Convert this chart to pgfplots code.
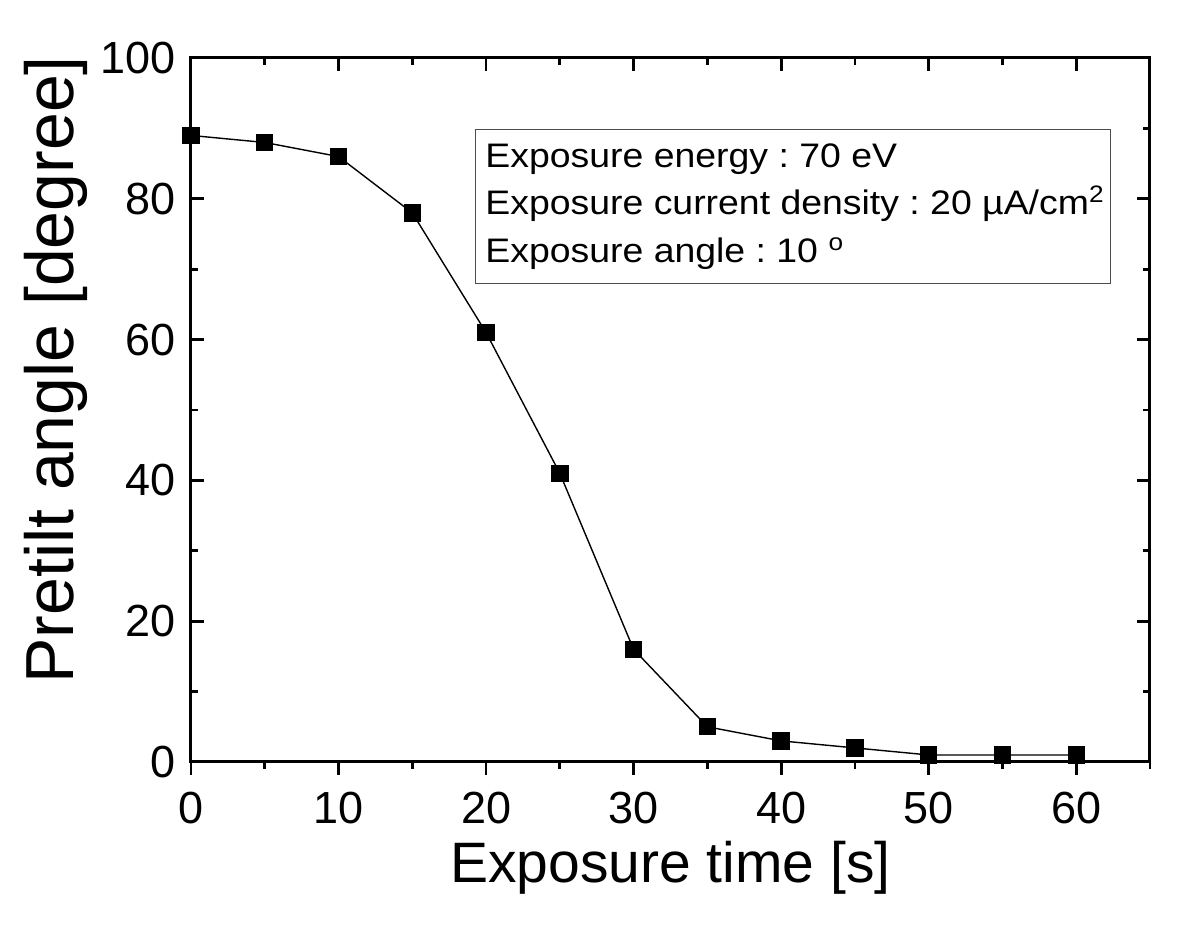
\documentclass[border=0pt]{standalone}
\usepackage{pgfplots}
\pgfplotsset{compat=1.18}
\usepackage{fontspec}
\setmainfont{Liberation Sans}
\newfontfamily\legfont[FakeStretch=1.1]{Liberation Sans}
\frenchspacing
\begin{document}
\begin{tikzpicture}
\useasboundingbox (-95.5pt,-82pt) rectangle (504.5pt,381pt);
\pgfplotsset{
  common/.style={
    scale only axis, width=479.5pt, height=352pt,
    at={(0,0)}, anchor=south west,
    xmin=0, xmax=65, ymin=0, ymax=100,
    xtick={0,10,...,60}, minor xtick={5,15,...,65},
    ytick={0,20,...,100}, minor ytick={10,30,...,90},
    major tick length=6.5pt, minor tick length=3.4pt,
    every tick/.style={line width=1.4pt, black},
    /pgf/number format/assume math mode=true,
    tick label style={font=\fontsize{22.5}{26}\selectfont},
  }
}
% frame with inward ticks (left, right, top)
\begin{axis}[common,
  axis line style={line width=1.5pt},
  tick align=inside,
  xtick pos=upper, xticklabels={},
  ytick pos=both, yticklabel pos=left,
  yticklabel style={xshift=-4pt},
  ylabel={Pretilt angle [degree]},
  ylabel style={font=\fontsize{34}{38}\selectfont,
    at={(ticklabel cs:0.557)}, yshift=0pt},
]
\addplot[black, line width=0.7pt, mark=square*, mark size=4pt,
  mark options={solid, fill=black}] coordinates {
  (0,89) (5,88) (10,86) (15,78) (20,61) (25,41) (30,16)
  (35,5) (40,3) (45,2) (50,1) (55,1) (60,1)
};
\draw[black!70, line width=0.6pt, fill=white]
  (axis cs:19.3,89.8) rectangle (axis cs:62.3,68.0);
\node[anchor=base west, inner sep=0pt, font=\legfont\fontsize{17}{20}\selectfont]
  at (axis cs:19.93,84.5) {Exposure energy : 70 eV};
\node[anchor=base west, inner sep=0pt, font=\legfont\fontsize{17}{20}\selectfont]
  at (axis cs:19.93,77.7) {Exposure current density : 20 \textmu A/cm\textsuperscript{2}};
\node[anchor=base west, inner sep=0pt, font=\legfont\fontsize{17}{20}\selectfont]
  at (axis cs:19.93,70.9) {Exposure angle : 10 \textsuperscript{o}};
\end{axis}
% bottom axis with outward ticks and labels
\begin{axis}[common,
  axis x line*=bottom, hide y axis,
  axis line style={line width=1.5pt, -},
  tick align=outside,
  xtick pos=lower,
  xticklabel style={yshift=-5pt},
  xlabel={Exposure time [s]},
  xlabel style={font=\fontsize{28.5}{32}\selectfont, yshift=-2pt},
]
\end{axis}
\end{tikzpicture}
\end{document}
